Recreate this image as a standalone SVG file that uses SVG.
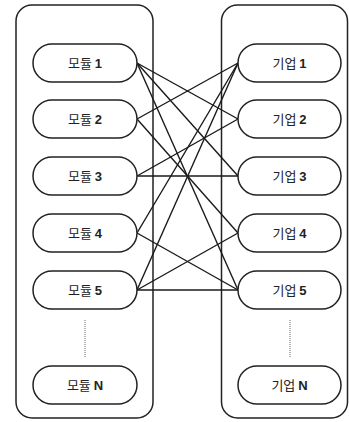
<svg xmlns="http://www.w3.org/2000/svg" width="349" height="422" viewBox="0 0 349 422">
<style>
.box{fill:none;stroke:#222;stroke-width:1.5}
.node rect{fill:#fff;stroke:#222;stroke-width:1.5}
.node text{font-family:"Noto Sans CJK KR","Liberation Sans",sans-serif;font-size:13px;fill:#222;text-anchor:middle}
.node tspan.n{font-family:"Liberation Sans",sans-serif;font-weight:bold}
#connectors line{stroke:#1a1a1a;stroke-width:1.4}
.dots{stroke:#666;stroke-width:1;stroke-dasharray:1 1}
</style>
<rect class="box" x="16" y="5" width="137" height="413" rx="16"/>
<rect class="box" x="221.5" y="5" width="126" height="413" rx="16"/>
<g id="connectors">
<line x1="137" y1="63" x2="238" y2="119"/>
<line x1="137" y1="63" x2="238" y2="176"/>
<line x1="137" y1="63" x2="238" y2="290"/>
<line x1="137" y1="119" x2="238" y2="63"/>
<line x1="137" y1="119" x2="238" y2="233"/>
<line x1="137" y1="176" x2="238" y2="119"/>
<line x1="137" y1="176" x2="238" y2="176"/>
<line x1="137" y1="233" x2="238" y2="63"/>
<line x1="137" y1="233" x2="238" y2="290"/>
<line x1="137" y1="290" x2="238" y2="63"/>
<line x1="137" y1="290" x2="238" y2="233"/>
<line x1="137" y1="290" x2="238" y2="290"/>
</g>
<line class="dots" x1="85" y1="320" x2="85" y2="358"/>
<line class="dots" x1="290" y1="320" x2="290" y2="358"/>
<g id="m1" class="node"><rect x="33" y="44" width="104" height="38" rx="19"/><text x="85" y="68">모듈 <tspan class="n">1</tspan></text></g>
<g id="m2" class="node"><rect x="33" y="100" width="104" height="38" rx="19"/><text x="85" y="124">모듈 <tspan class="n">2</tspan></text></g>
<g id="m3" class="node"><rect x="33" y="157" width="104" height="38" rx="19"/><text x="85" y="181">모듈 <tspan class="n">3</tspan></text></g>
<g id="m4" class="node"><rect x="33" y="214" width="104" height="38" rx="19"/><text x="85" y="238">모듈 <tspan class="n">4</tspan></text></g>
<g id="m5" class="node"><rect x="33" y="271" width="104" height="38" rx="19"/><text x="85" y="295">모듈 <tspan class="n">5</tspan></text></g>
<g id="mN" class="node"><rect x="33" y="366" width="104" height="38" rx="19"/><text x="85" y="390">모듈 <tspan class="n">N</tspan></text></g>
<g id="c1" class="node"><rect x="238" y="44" width="103" height="38" rx="19"/><text x="289.5" y="68">기업 <tspan class="n">1</tspan></text></g>
<g id="c2" class="node"><rect x="238" y="100" width="103" height="38" rx="19"/><text x="289.5" y="124">기업 <tspan class="n">2</tspan></text></g>
<g id="c3" class="node"><rect x="238" y="157" width="103" height="38" rx="19"/><text x="289.5" y="181">기업 <tspan class="n">3</tspan></text></g>
<g id="c4" class="node"><rect x="238" y="214" width="103" height="38" rx="19"/><text x="289.5" y="238">기업 <tspan class="n">4</tspan></text></g>
<g id="c5" class="node"><rect x="238" y="271" width="103" height="38" rx="19"/><text x="289.5" y="295">기업 <tspan class="n">5</tspan></text></g>
<g id="cN" class="node"><rect x="238" y="366" width="103" height="38" rx="19"/><text x="289.5" y="390">기업 <tspan class="n">N</tspan></text></g>
</svg>
